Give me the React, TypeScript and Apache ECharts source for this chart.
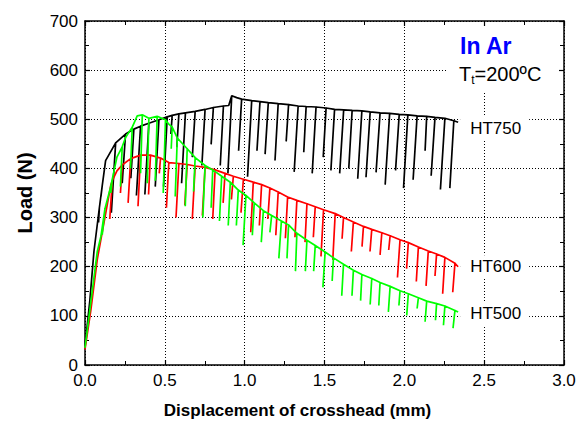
import React, { useEffect, useRef } from "react";
import * as echarts from "echarts";

// Each entry: [x, y] envelope point, or [xTop, yTop, xBottom, yBottom] unload/reload tooth
const ht750: number[][] = [
  [0, 38], [0.03, 130], [0.056, 231], [0.09, 320, 0.085, 290], [0.108, 365, 0.1, 343],
  [0.129, 416], [0.192, 452, 0.165, 310], [0.254, 470, 0.233, 370], [0.306, 480, 0.287, 380],
  [0.348, 486, 0.322, 345], [0.4, 492, 0.375, 347], [0.463, 499, 0.44, 363], [0.515, 505, 0.492, 363],
  [0.546, 508, 0.538, 470], [0.588, 511, 0.575, 443], [0.629, 513, 0.605, 370], [0.69, 516, 0.672, 423],
  [0.752, 520, 0.732, 406], [0.804, 524, 0.79, 449], [0.867, 527, 0.847, 406], [0.9, 528],
  [0.919, 548, 0.895, 390], [0.95, 544], [0.981, 541, 0.962, 436], [1.044, 538, 1.018, 383],
  [1.096, 536, 1.077, 436], [1.148, 534, 1.128, 429], [1.21, 532, 1.19, 416], [1.275, 530, 1.26, 455],
  [1.335, 527, 1.31, 393], [1.385, 526, 1.37, 433], [1.447, 525, 1.423, 390], [1.51, 523, 1.492, 423],
  [1.563, 520, 1.54, 396], [1.62, 519, 1.595, 390], [1.673, 518, 1.652, 400], [1.734, 517, 1.708, 379],
  [1.786, 515, 1.76, 382], [1.848, 513, 1.823, 392], [1.908, 512, 1.88, 367], [1.968, 510, 1.945, 396],
  [2.022, 509, 1.995, 360], [2.08, 507, 2.055, 377], [2.14, 506, 2.13, 436], [2.192, 504, 2.168, 385],
  [2.254, 502, 2.226, 357], [2.31, 497, 2.285, 360], [2.337, 494],
];

const ht600: number[][] = [
  [0, 32], [0.036, 110], [0.077, 215], [0.119, 290], [0.161, 365],
  [0.171, 375, 0.155, 297], [0.2, 395], [0.233, 407, 0.222, 350], [0.286, 420, 0.27, 330],
  [0.348, 427, 0.332, 323], [0.41, 427, 0.398, 347], [0.473, 421, 0.465, 390], [0.525, 412, 0.51, 320],
  [0.588, 410, 0.57, 300], [0.64, 408, 0.625, 325], [0.69, 405, 0.672, 297], [0.752, 402, 0.735, 304],
  [0.815, 397, 0.8, 297], [0.877, 390, 0.865, 330], [0.929, 384, 0.917, 337], [0.992, 378, 0.977, 310],
  [1.054, 372, 1.038, 270], [1.106, 367, 1.092, 284], [1.158, 360, 1.145, 297], [1.21, 352, 1.195, 264],
  [1.269, 342, 1.255, 258], [1.327, 335, 1.315, 260], [1.39, 328, 1.378, 250], [1.442, 322, 1.43, 260],
  [1.494, 316, 1.478, 221], [1.567, 308, 1.552, 214], [1.619, 300, 1.61, 257], [1.681, 291, 1.668, 231],
  [1.744, 282, 1.735, 241], [1.796, 276, 1.785, 231], [1.859, 269, 1.848, 224], [1.911, 263, 1.902, 234],
  [1.973, 255, 1.957, 178], [2.025, 249, 2.014, 196], [2.088, 240, 2.075, 170], [2.15, 232, 2.136, 161],
  [2.202, 226, 2.192, 181], [2.254, 219, 2.24, 145], [2.317, 207, 2.303, 148], [2.337, 200],
];

const ht500: number[][] = [
  [0, 35], [0.077, 231], [0.1, 262], [0.125, 318, 0.108, 265], [0.161, 363],
  [0.171, 378, 0.162, 350], [0.2, 423], [0.233, 444, 0.222, 363], [0.254, 463], [0.296, 484, 0.285, 400],
  [0.327, 507], [0.359, 509, 0.348, 390], [0.4, 502, 0.39, 370], [0.452, 506, 0.44, 375],
  [0.504, 499, 0.49, 350], [0.525, 490], [0.546, 484, 0.54, 440], [0.578, 462, 0.565, 343],
  [0.64, 440, 0.628, 323], [0.69, 422, 0.68, 353], [0.752, 406, 0.738, 300], [0.8, 397, 0.79, 320],
  [0.856, 384, 0.842, 293], [0.91, 372, 0.897, 284], [0.96, 356, 0.948, 284], [1.008, 345, 0.99, 244],
  [1.06, 330, 1.048, 264], [1.117, 314, 1.104, 250], [1.169, 304, 1.158, 270], [1.23, 293, 1.214, 217],
  [1.275, 285, 1.265, 217], [1.327, 268, 1.318, 191], [1.39, 254, 1.38, 191], [1.442, 243, 1.432, 191],
  [1.504, 230, 1.49, 158], [1.556, 218, 1.548, 171], [1.619, 205, 1.608, 141], [1.681, 193, 1.672, 141],
  [1.734, 184, 1.726, 131], [1.796, 176, 1.786, 123], [1.848, 168, 1.84, 121], [1.911, 160, 1.9, 108],
  [1.973, 151, 1.966, 121], [2.025, 145, 2.015, 101], [2.088, 137, 2.08, 115], [2.14, 130, 2.13, 88],
  [2.202, 125, 2.195, 91], [2.254, 120, 2.245, 81], [2.317, 111, 2.305, 75], [2.337, 108],
];

const seriesNames = ["HT750", "HT600", "HT500"];
const seriesColors = ["#000000", "#ff0000", "#00ff00"];
const xTicks = [0, 0.5, 1.0, 1.5, 2.0, 2.5, 3.0];
const yTicks = [0, 100, 200, 300, 400, 500, 600, 700];

const FONT = "'Liberation Sans', Arial, Helvetica, sans-serif";

function buildPath(entries: number[][]): number[][] {
  const out: number[][] = [];
  for (const e of entries) {
    out.push([e[0], e[1]]);
    if (e.length === 4) {
      out.push([e[2], e[3]]);
      out.push([e[0], e[1]]);
    }
  }
  return out;
}

export default function App() {
  const ref = useRef<HTMLDivElement>(null);
  useEffect(() => {
    if (!ref.current) return;
    const chart = echarts.init(ref.current, null, { renderer: "svg" });
    const axisLine = { show: true, onZero: false, lineStyle: { color: "#000", width: 1.5 } };
    const tick = { show: true, inside: true, length: 5, lineStyle: { color: "#000", width: 1.2 } };
    const minor = { show: true, splitNumber: 2, length: 4, lineStyle: { color: "#000", width: 1 } };
    const split = { show: true, lineStyle: { color: "#000", width: 1, type: [1, 2] as any } };
    const datasets = [ht750, ht600, ht500];
    const offsets = [[0, 6], [0, 0], [0, 2]];
    chart.setOption({
      animation: false,
      backgroundColor: "#fff",
      grid: { left: 85, right: 16, top: 21, bottom: 51, containLabel: false },
      xAxis: [
        {
          type: "value", min: xTicks[0], max: xTicks[xTicks.length - 1], interval: 0.5, position: "bottom",
          axisLine, axisTick: tick, minorTick: minor, splitLine: split,
          axisLabel: { color: "#000", fontSize: 17, fontFamily: FONT, margin: 7, formatter: (v: number) => v.toFixed(1) },
          name: "Displacement of crosshead (mm)", nameLocation: "middle", nameGap: 37,
          nameTextStyle: { color: "#000", fontSize: 17, fontWeight: "bold", fontFamily: FONT, padding: [0, 54, 0, 0] },
        },
        {
          type: "value", min: xTicks[0], max: xTicks[xTicks.length - 1], interval: 0.5, position: "top",
          axisLine, axisTick: tick, minorTick: minor, splitLine: { show: false }, axisLabel: { show: false },
        },
      ],
      yAxis: [
        {
          type: "value", min: yTicks[0], max: yTicks[yTicks.length - 1], interval: 100, position: "left",
          axisLine, axisTick: tick, minorTick: minor, splitLine: split,
          axisLabel: { color: "#000", fontSize: 17, fontFamily: FONT, margin: 7 },
          name: "Load (N)", nameLocation: "middle", nameGap: 50,
          nameTextStyle: { color: "#000", fontSize: 20, fontWeight: "bold", fontFamily: FONT },
        },
        {
          type: "value", min: yTicks[0], max: yTicks[yTicks.length - 1], interval: 100, position: "right",
          axisLine, axisTick: tick, minorTick: minor, splitLine: { show: false }, axisLabel: { show: false },
        },
      ],
      series: datasets.map((d, i) => ({
        type: "line",
        name: seriesNames[i],
        data: buildPath(d),
        xAxisIndex: 0,
        yAxisIndex: 0,
        showSymbol: false,
        symbol: "none",
        z: 2 + i,
        lineStyle: { color: seriesColors[i], width: 1.7 },
        endLabel: {
          show: true,
          formatter: seriesNames[i],
          color: "#000",
          fontSize: 17,
          fontFamily: FONT,
          backgroundColor: "#fff",
          padding: [3, 8, 3, 10],
          distance: 2,
          offset: offsets[i],
        },
      })),
      graphic: [
        { type: "rect", z: 10, shape: { x: 447, y: 27, width: 110, height: 66 }, style: { fill: "#fff" } },
        {
          type: "text", z: 11, x: 460, y: 34,
          style: { text: "In Ar", fill: "#0000ff", fontSize: 23, fontWeight: "bold", fontFamily: FONT },
        },
        {
          type: "text", z: 11, x: 459, y: 62,
          style: {
            text: "{a|T}{s|t}{a|=200ºC}",
            fontFamily: FONT,
            rich: {
              a: { fontSize: 20, fill: "#000", fontFamily: FONT, lineHeight: 24, verticalAlign: "middle" },
              s: { fontSize: 12, fill: "#000", fontFamily: FONT, lineHeight: 12, verticalAlign: "bottom" },
            },
          },
        },
      ],
    });
    return () => chart.dispose();
  }, []);
  return <div ref={ref} style={{ position: "fixed", left: 0, top: 0, width: 580, height: 424 }} />;
}
